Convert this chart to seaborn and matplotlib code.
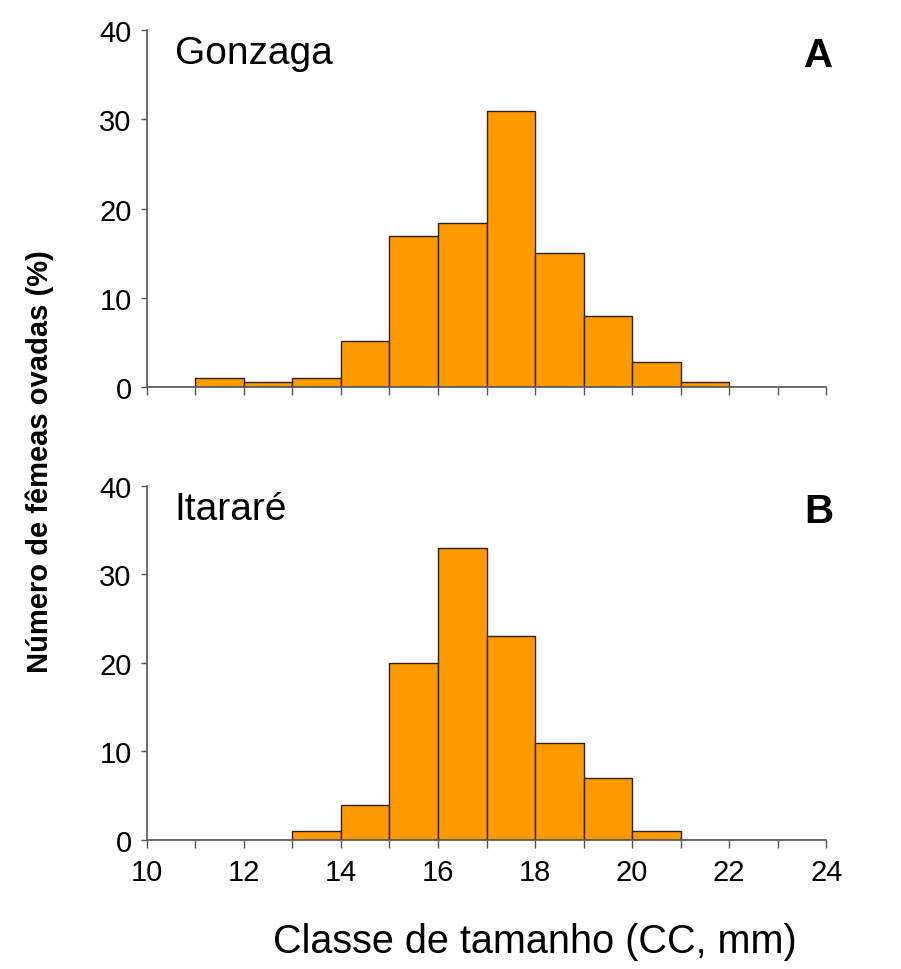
import numpy as np
import pandas as pd
import matplotlib
matplotlib.use("Agg")
import matplotlib.pyplot as plt
import seaborn as sns

# Size classes (lower bound of each 1-mm class, CC in mm)
class_lower = [10, 11, 12, 13, 14, 15, 16, 17, 18, 19, 20, 21, 22, 23]
# Percentage of ovigerous females per class
gonzaga = [0, 1.0, 0.6, 1.0, 5.2, 16.9, 18.4, 30.9, 15.0, 8.0, 2.8, 0.6, 0, 0]
itarare = [0, 0, 0, 1.0, 4.0, 20.0, 33.0, 23.1, 11.0, 7.0, 1.0, 0, 0, 0]

panels = [("Gonzaga", "A", gonzaga), ("Itararé", "B", itarare)]
yticks = [0, 10, 20, 30, 40]

sns.set_theme(style="white")
plt.rcParams["font.family"] = ["Liberation Sans", "DejaVu Sans"]

fig = plt.figure(figsize=(9.01, 9.70), dpi=100)
ax_a = fig.add_axes([0.163, 0.600, 0.754, 0.368])
ax_b = fig.add_axes([0.163, 0.133, 0.754, 0.365])
bins = class_lower + [class_lower[-1] + 1]

for ax, (site, letter, vals) in zip([ax_a, ax_b], panels):
    df = pd.DataFrame({"cls": np.array(class_lower) + 0.5, "pct": vals})
    df = df[df["pct"] > 0]
    sns.histplot(data=df, x="cls", weights="pct", bins=bins, ax=ax,
                 color="#FF9900", alpha=1, edgecolor="#2b2216", linewidth=1.0)
    ax.set_xlim(10, 24)
    ax.set_ylim(0, 40)
    ax.set_yticks(yticks)
    ax.set_xticks(list(range(10, 25)))
    ax.set_xlabel("")
    ax.set_ylabel("")
    for s in ["top", "right"]:
        ax.spines[s].set_visible(False)
    for s in ["left", "bottom"]:
        ax.spines[s].set_color("#555555")
        ax.spines[s].set_linewidth(1.2)
    ax.tick_params(axis="both", which="both", direction="out", bottom=True,
                   left=True, width=1.0, color="#555555", labelsize=21,
                   labelcolor="black")
    ax.tick_params(axis="x", length=6, pad=7)
    ax.tick_params(axis="y", length=4, pad=7)
    ax.text(0.041, 0.935, site, transform=ax.transAxes, fontsize=28,
            ha="left", va="center", color="black")
    ax.text(1.01, 0.93, letter, transform=ax.transAxes, fontsize=29,
            fontweight="bold", ha="right", va="center", color="black")
    ax.set_facecolor("white")

ax_a.set_xticklabels([])
ax_b.set_xticklabels([str(t) if t % 2 == 0 else "" for t in range(10, 25)])

fig.text(0.594, 0.029, "Classe de tamanho (CC, mm)", ha="center", va="center",
         fontsize=28.5, color="black")
fig.text(0.044, 0.524, "Número de fêmeas ovadas (%)", ha="center", va="center",
         rotation=90, fontsize=21, fontweight="bold", color="black")

fig.savefig("out.png", dpi=100, facecolor="white")
